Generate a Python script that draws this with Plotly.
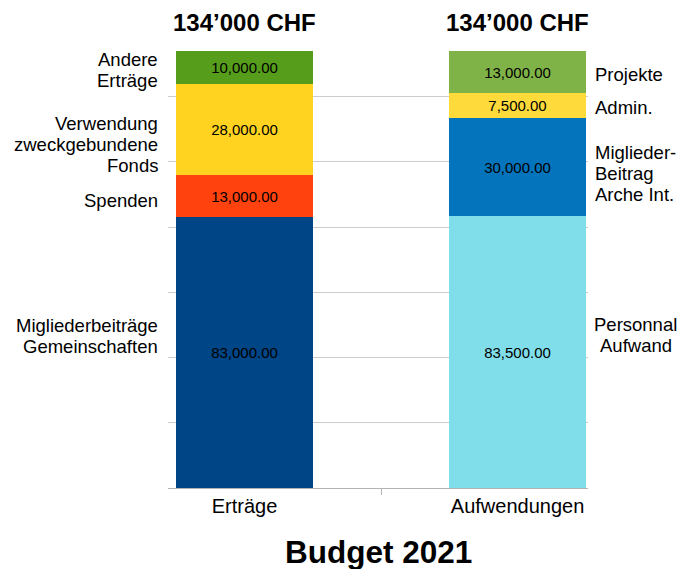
import plotly.graph_objects as go

categories = ["Erträge", "Aufwendungen"]

ertraege_labels = ["Migliederbeiträge<br>Gemeinschaften", "Spenden",
                   "Verwendung<br>zweckgebundene<br>Fonds", "Andere<br>Erträge"]
ertraege_values = [83000, 13000, 28000, 10000]
ertraege_colors = ["#004586", "#ff420e", "#ffd320", "#579d1c"]
ertraege_shift = [-17, 4, 15, 3]

aufwand_labels = ["Personnal<br>Aufwand", "Miglieder-<br>Beitrag<br>Arche Int.",
                  "Admin.", "Projekte"]
aufwand_values = [83500, 30000, 7500, 13000]
aufwand_colors = ["#80deea", "#0474bc", "#ffda3b", "#80b347"]
aufwand_shift = [-17, 7, 2, 2]

FONT = "Liberation Sans"
LINE = 21
fig = go.Figure()

annotations = []

def add_stack(xpos, values, colors, labels, shifts, side):
    cum = 0
    for i, (v, c, lab) in enumerate(zip(values, colors, labels)):
        fig.add_trace(go.Bar(
            x=[xpos], y=[v], marker=dict(color=c, line=dict(width=0)),
            width=0.502, texttemplate="%{y:,.2f}", textposition="inside",
            insidetextanchor="middle", textangle=0,
            textfont=dict(family=FONT, size=15, color="black"),
            showlegend=False, hoverinfo="skip"))
        mid = cum + v / 2
        cum += v
        lines = lab.split("<br>")
        n = len(lines)
        for k, line in enumerate(lines):
            off = (k - (n - 1) / 2) * LINE
            if side == "left":
                annotations.append(dict(
                    x=-0.019, xref="paper", y=mid, yref="y", text=line,
                    xanchor="right", yanchor="middle",
                    yshift=-(shifts[i] + off),
                    showarrow=False, font=dict(family=FONT, size=18.5, color="black")))
            else:
                xa = "left"
                xx = 1.012
                if i == 0:
                    xa = "center"
                    xx = 1.012 + 0.102
                annotations.append(dict(
                    x=xx, xref="paper", y=mid, yref="y", text=line,
                    xanchor=xa, yanchor="middle",
                    yshift=-(shifts[i] + off),
                    showarrow=False, font=dict(family=FONT, size=18.5, color="black")))
    total = cum
    annotations.append(dict(
        x=xpos, xref="x", y=1, yref="paper", yshift=29,
        text=f"{total:,}".replace(",", "\u2019") + " CHF",
        xanchor="center", yanchor="middle", showarrow=False,
        font=dict(family=FONT, size=24, color="black", weight="bold")))

add_stack(0, ertraege_values, ertraege_colors, ertraege_labels, ertraege_shift, "left")
add_stack(1, aufwand_values, aufwand_colors, aufwand_labels, aufwand_shift, "right")

annotations.append(dict(
    x=0.5, xref="paper", y=0, yref="paper", yshift=-64,
    text="Budget 2021", xanchor="center", yanchor="middle", showarrow=False,
    font=dict(family=FONT, size=31.5, color="black", weight="bold")))

fig.update_layout(
    width=687, height=561,
    margin=dict(l=160, r=107, t=43, b=81),
    barmode="stack", bargap=0,
    plot_bgcolor="white", paper_bgcolor="white",
    annotations=annotations,
)
fig.update_xaxes(
    range=[-0.280, 1.258], tickmode="array", tickvals=[0, 1], ticktext=categories,
    ticks="", showgrid=False, zeroline=False,
    showline=True, linecolor="#b3b3b3", linewidth=1,
    tickfont=dict(family=FONT, size=20, color="black"),
    minor=dict(tickmode="array", tickvals=[0.5], ticks="outside", ticklen=6,
               tickcolor="#b3b3b3", tickwidth=1, showgrid=False),
)
fig.update_yaxes(
    range=[0, 134000], dtick=20000, tick0=0, showgrid=True, gridcolor="#cccccc",
    gridwidth=1, showticklabels=False, zeroline=False, ticks="",
)

fig.write_html("out.html")
